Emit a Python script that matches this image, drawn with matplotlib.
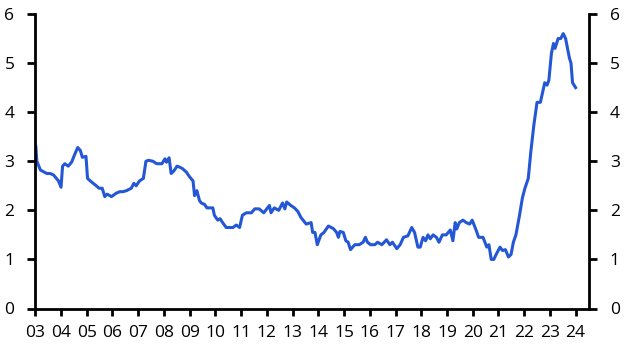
import matplotlib
matplotlib.use("Agg")
import matplotlib.pyplot as plt

# Decimal-year dates and values
dates = [2003.02, 2003.06, 2003.10, 2003.20, 2003.45, 2003.58, 2003.71, 2003.90, 2004.00,
         2004.06, 2004.15, 2004.28, 2004.41, 2004.54, 2004.65, 2004.75, 2004.83, 2004.97,
         2005.03, 2005.18, 2005.37, 2005.48, 2005.60, 2005.70, 2005.79, 2005.96, 2006.15,
         2006.28, 2006.41, 2006.54, 2006.73, 2006.83, 2006.92, 2007.05, 2007.20, 2007.30,
         2007.40, 2007.57, 2007.72, 2007.92, 2008.04, 2008.10, 2008.20, 2008.28, 2008.38,
         2008.51, 2008.61, 2008.72, 2008.87, 2009.00, 2009.13, 2009.19, 2009.28, 2009.38,
         2009.45, 2009.58, 2009.67, 2009.90, 2009.96, 2010.09, 2010.18, 2010.28, 2010.42,
         2010.68, 2010.81, 2010.94, 2011.05, 2011.20, 2011.40, 2011.53, 2011.70, 2011.88,
         2012.10, 2012.16, 2012.29, 2012.46, 2012.61, 2012.70, 2012.77, 2012.93, 2013.07,
         2013.20, 2013.33, 2013.53, 2013.72, 2013.78, 2013.87, 2013.96, 2014.10, 2014.22,
         2014.39, 2014.58, 2014.71, 2014.78, 2014.84, 2014.97, 2015.07, 2015.16, 2015.25,
         2015.42, 2015.59, 2015.74, 2015.83, 2015.91, 2016.03, 2016.20, 2016.30, 2016.47,
         2016.65, 2016.78, 2016.88, 2017.05, 2017.18, 2017.31, 2017.48, 2017.63, 2017.74,
         2017.87, 2017.96, 2018.07, 2018.17, 2018.26, 2018.35, 2018.46, 2018.59, 2018.69,
         2018.82, 2018.97, 2019.13, 2019.23, 2019.32, 2019.38, 2019.48, 2019.62, 2019.75,
         2019.88, 2019.98, 2020.13, 2020.23, 2020.40, 2020.55, 2020.63, 2020.72, 2020.82,
         2020.91, 2021.06, 2021.16, 2021.27, 2021.39, 2021.49, 2021.58, 2021.68, 2021.82,
         2021.93, 2022.03, 2022.16, 2022.26, 2022.38, 2022.50, 2022.63, 2022.80, 2022.89,
         2022.96, 2023.06, 2023.14, 2023.20, 2023.32, 2023.42, 2023.52, 2023.61, 2023.76,
         2023.82, 2023.88, 2024.00]
values = [3.30, 3.00, 2.95, 2.82, 2.75, 2.75, 2.72, 2.60, 2.47,
          2.90, 2.95, 2.90, 2.98, 3.15, 3.28, 3.22, 3.08, 3.10,
          2.65, 2.58, 2.50, 2.45, 2.45, 2.28, 2.33, 2.28, 2.35,
          2.38, 2.38, 2.40, 2.45, 2.55, 2.50, 2.60, 2.65, 3.00,
          3.02, 3.00, 2.95, 2.95, 3.05, 2.98, 3.07, 2.75, 2.80,
          2.90, 2.88, 2.85, 2.78, 2.68, 2.60, 2.30, 2.40, 2.20,
          2.15, 2.12, 2.05, 2.05, 1.90, 1.80, 1.83, 1.75, 1.65,
          1.65, 1.70, 1.65, 1.90, 1.95, 1.95, 2.03, 2.03, 1.95,
          2.10, 1.95, 2.05, 2.00, 2.15, 2.03, 2.17, 2.10, 2.05,
          1.98, 1.85, 1.72, 1.75, 1.55, 1.55, 1.30, 1.50, 1.55,
          1.68, 1.63, 1.55, 1.45, 1.57, 1.55, 1.38, 1.35, 1.20,
          1.30, 1.30, 1.35, 1.45, 1.35, 1.30, 1.30, 1.35, 1.30,
          1.40, 1.30, 1.35, 1.22, 1.30, 1.45, 1.48, 1.65, 1.55,
          1.25, 1.25, 1.45, 1.38, 1.50, 1.42, 1.50, 1.45, 1.35,
          1.50, 1.50, 1.60, 1.38, 1.75, 1.62, 1.75, 1.80, 1.75,
          1.72, 1.80, 1.60, 1.45, 1.45, 1.25, 1.30, 1.00, 1.00,
          1.10, 1.25, 1.18, 1.20, 1.05, 1.10, 1.35, 1.50, 1.90,
          2.25, 2.45, 2.65, 3.20, 3.75, 4.20, 4.20, 4.60, 4.55,
          4.65, 5.20, 5.40, 5.30, 5.50, 5.50, 5.60, 5.50, 5.10,
          5.00, 4.60, 4.50]

years = list(range(2003, 2025))
year_labels = [f"{y % 100:02d}" for y in years]
yticks = [0, 1, 2, 3, 4, 5, 6]

plt.rcParams['font.family'] = ['Open Sans', 'DejaVu Sans']

fig = plt.figure(figsize=(6.27, 3.51), dpi=100)
ax = fig.add_axes([35.3/627, 1 - 308.5/351, 553.7/627, 294.5/351])
ax.plot(dates, values, color="#2457d6", lw=2.2, solid_joinstyle="round")

ax.set_xlim(2003, 2024.52)
ax.set_ylim(0, 6)
ax.set_xticks(years)
ax.set_xticklabels(year_labels)
ax.set_yticks(yticks)

ax.spines["top"].set_visible(False)
for s in ["left", "right", "bottom"]:
    ax.spines[s].set_linewidth(2)
    ax.spines[s].set_color("black")

ax.tick_params(axis="x", direction="out", length=5, width=2, pad=7, labelsize=12.5)
ax.tick_params(axis="y", direction="out", length=6, width=2, pad=9, labelsize=12.5,
               left=True, right=True, labelleft=True, labelright=True)

fig.savefig("out.png", dpi=100)
